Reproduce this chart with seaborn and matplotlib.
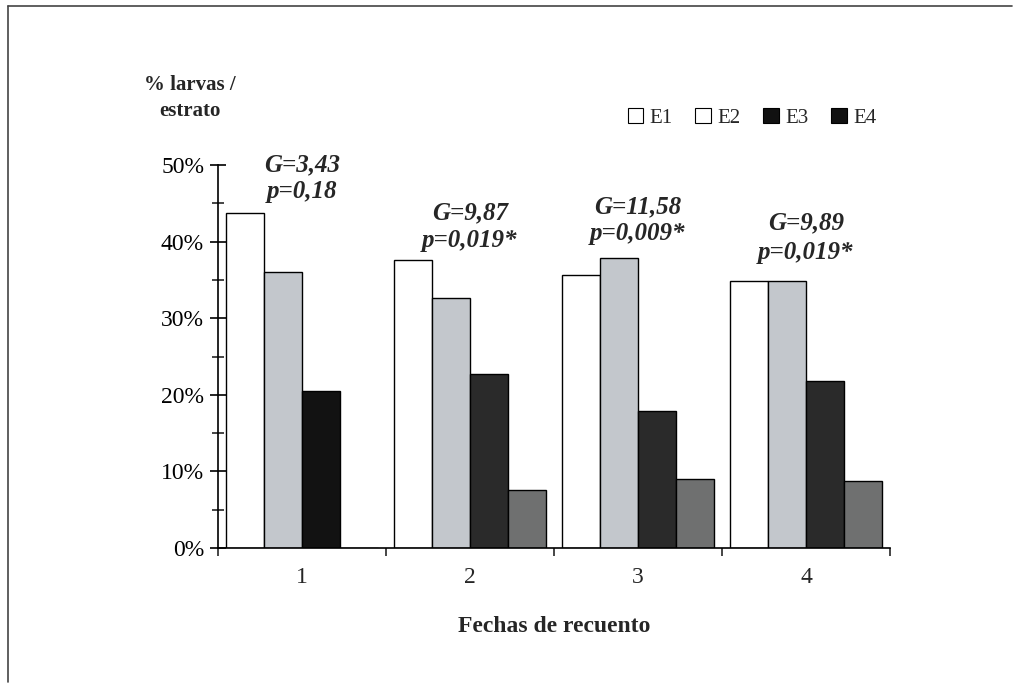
import matplotlib
matplotlib.use("Agg")
import matplotlib.pyplot as plt
import seaborn as sns
import pandas as pd
from matplotlib.patches import Patch
from matplotlib.lines import Line2D
from matplotlib.ticker import MultipleLocator, FuncFormatter

# ---- data ----
fechas = ["1", "2", "3", "4"]
estratos = ["E1", "E2", "E3", "E4"]
e1 = [43.7, 37.6, 35.6, 34.9]
e2 = [36.0, 32.6, 37.9, 34.9]
e3 = [20.5, 22.7, 17.9, 21.8]
e4 = [0.0, 7.6, 9.0, 8.8]
g_labels = ["G=3,43", "G=9,87", "G=11,58", "G=9,89"]
p_labels = ["p=0,18", "p=0,019*", "p=0,009*", "p=0,019*"]

sns.set_theme(style="white")
plt.rcParams["font.family"] = ["Liberation Serif", "DejaVu Serif"]

rows = []
for vals, est in zip([e1, e2, e3, e4], estratos):
    for f, v in zip(fechas, vals):
        rows.append({"Fecha": f, "Estrato": est, "pct": v / 100.0})
df = pd.DataFrame(rows)

palette = {"E1": "#ffffff", "E2": "#c3c7cc", "E3": "#2a2a2a", "E4": "#6f7070"}

fig = plt.figure(figsize=(10.29, 6.9), dpi=100)
ax = fig.add_axes([218 / 1029, 1 - 548 / 690, (890 - 218) / 1029, (548 - 165) / 690])

sns.barplot(data=df, x="Fecha", y="pct", hue="Estrato", order=fechas,
            hue_order=estratos, palette=palette, edgecolor="black",
            linewidth=1.0, width=0.9, errorbar=None, legend=False, ax=ax,
            saturation=1)

# first E3 bar is printed almost pure black in the reference
e3_bars = [p for p in ax.patches if abs(p.get_height() - e3[0] / 100.0) < 1e-9]
for p in e3_bars:
    p.set_facecolor("#121212")

ax.set_ylim(0, 0.5)
ax.set_xlim(-0.5, 3.5)
ax.yaxis.set_major_locator(MultipleLocator(0.1))
ax.yaxis.set_minor_locator(MultipleLocator(0.05))
ax.yaxis.set_major_formatter(FuncFormatter(lambda v, _: f"{v*100:.0f}%"))
ax.tick_params(axis="y", which="major", direction="inout", length=12, width=1.2,
               labelsize=17, pad=4, left=True, colors="black")
ax.tick_params(axis="y", which="minor", direction="inout", length=8, width=1.2, left=True)

# x ticks: boundaries as tick marks, labels at centers
ax.set_xticks([0, 1, 2, 3])
ax.set_xticklabels(fechas, fontsize=17)
ax.tick_params(axis="x", which="major", length=0, pad=14)
ax.set_xticks([-0.5, 0.5, 1.5, 2.5, 3.5], minor=True)
ax.tick_params(axis="x", which="minor", direction="out", length=6, width=1.2, bottom=True)

for s in ["top", "right"]:
    ax.spines[s].set_visible(False)
for s in ["left", "bottom"]:
    ax.spines[s].set_color("black")
    ax.spines[s].set_linewidth(1.2)

ax.set_ylabel("")
ax.set_xlabel("Fechas de recuento", fontsize=17, fontweight="bold", labelpad=20)

# annotations above groups
ann_y = [(0.500, 0.465), (0.437, 0.402), (0.446, 0.410), (0.424, 0.386)]
for i, (g, p) in enumerate(zip(g_labels, p_labels)):
    gy, py = ann_y[i]
    ax.text(i, gy, g, ha="center", va="center", fontsize=18, fontweight="bold",
            fontstyle="italic", clip_on=False)
    ax.text(i, py, p, ha="center", va="center", fontsize=18, fontweight="bold",
            fontstyle="italic", clip_on=False)

# y-axis title
fig.text(190 / 1029, 1 - 85 / 690, "% larvas /", ha="center", va="center",
         fontsize=15, fontweight="bold")
fig.text(190 / 1029, 1 - 111 / 690, "estrato", ha="center", va="center",
         fontsize=15, fontweight="bold")

# legend (as drawn in the reference)
leg_colors = ["#ffffff", "#ffffff", "#111111", "#111111"]
handles = [Patch(facecolor=c, edgecolor="black", linewidth=0.8) for c in leg_colors]
fig.legend(handles, estratos, loc="center", bbox_to_anchor=(752 / 1029, 1 - 118 / 690),
           ncol=4, frameon=False, fontsize=15, handlelength=0.75, handleheight=0.75,
           handletextpad=0.3, columnspacing=1.1)

# outer frame (left and top edges)
fig.add_artist(Line2D([8 / 1029, 8 / 1029], [1 - 682 / 690, 1 - 6 / 690],
                      transform=fig.transFigure, color="#444444", linewidth=1.2))
fig.add_artist(Line2D([8 / 1029, 1012 / 1029], [1 - 6 / 690, 1 - 6 / 690],
                      transform=fig.transFigure, color="#444444", linewidth=1.2))

fig.savefig("out.png", dpi=100, facecolor="white")
